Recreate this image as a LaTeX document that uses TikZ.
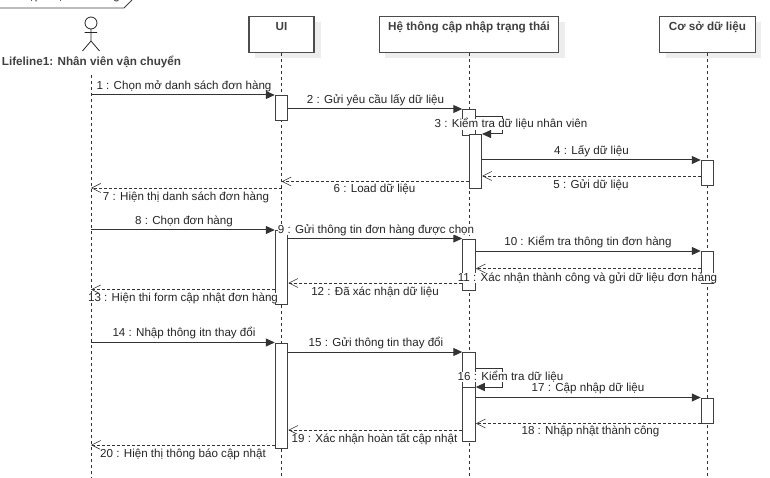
\documentclass[tikz,border=0pt]{standalone}
\usepackage{fontspec}
\setmainfont{Liberation Sans}
\usetikzlibrary{arrows.meta}
\tikzset{
  lifeline/.style={dash pattern=on 3pt off 3pt,line width=.8pt,black!80},
  header/.style={draw=black!70,line width=1.2pt,fill=white,minimum height=36pt,anchor=north,inner sep=0pt},
  headname/.style={font=\fontsize{11.7}{13}\selectfont\bfseries,text=black!75,inner sep=0pt},
  shadowbox/.style={fill=black!7,draw=none},
  activation/.style={draw=black!75,line width=1pt,fill=white,minimum width=12.5pt,inner sep=0pt,anchor=north},
  msg/.style={draw=black!80,line width=1pt,-{Triangle[length=9pt,width=8pt]}},
  reply/.style={draw=black!80,line width=.8pt,dash pattern=on 3pt off 2pt,-{Straight Barb[length=9pt,width=9pt,line width=.6pt]}},
  msglabel/.style={fill=white,inner sep=0pt,text=black!85,font=\fontsize{11.6}{12}\selectfont,text height=8.5pt,text depth=2pt},
}
\begin{document}
\begin{tikzpicture}[x=1pt,y=-1pt]
  \useasboundingbox (0,0) rectangle (770,478);

  % frame tab
  \node[msglabel,fill=none] (frametab) at (60,-3.5) {sd: Cập nhật đơn hàng};
  \coordinate (tabA) at (0,8);
  \coordinate (tabB) at (124,8);
  \coordinate (tabC) at (132,0);
  \draw[draw=black!75,line width=.8pt] (tabA) -- (tabB) -- (tabC);

  % actor
  \draw[line width=.8pt,black!85] (91,23) circle (6pt);
  \draw[line width=.8pt,black!85] (91,29) -- (91,41) -- (82.5,51) (91,41) -- (99.5,51) (84.5,32.5) -- (97,32.5);
  \node[headname] (actorname) at (91.5,62) {Lifeline1: Nhân viên vận chuyển};

  % shadows
  \fill[shadowbox] (255,22) rectangle (321,58);
  \fill[shadowbox] (385,22) rectangle (565,58);
  \fill[shadowbox] (666,22) rectangle (761,58);

  % lifelines
  \coordinate (nvTop) at (91,75);
  \coordinate (nvEnd) at (91,478);
  \coordinate (uiEnd) at (281.5,478);
  \coordinate (htEnd) at (469,478);
  \coordinate (dbEnd) at (707.5,478);
  \draw[lifeline] (nvTop) -- (nvEnd);

  \node[header,minimum width=65pt] (ui) at (281.5,16) {};
  \node[header,minimum width=179pt] (ht) at (469,16) {};
  \node[header,minimum width=95.5pt] (db) at (707.5,16) {};
  \node[headname] (uiname) at (281.5,27) {UI};
  \node[headname] (htname) at (469,27) {Hệ thông cập nhập trạng thái};
  \node[headname] (dbname) at (707.5,27) {Cơ sở dữ liệu};
  \draw[lifeline] (ui) -- (uiEnd);
  \draw[lifeline] (ht) -- (htEnd);
  \draw[lifeline] (db) -- (dbEnd);

  % activations
  \node[activation,minimum height=25pt] (uiA) at (281.5,95) {};
  \node[activation,minimum height=74pt] (uiB) at (281.5,230) {};
  \node[activation,minimum height=105.5pt] (uiC) at (281.5,342.5) {};
  \node[activation,minimum height=26pt] (htA) at (469,109) {};
  \node[activation,minimum height=54pt] (htB) at (475.25,134) {};
  \node[activation,minimum height=51pt] (htC) at (469,238.5) {};
  \node[activation,minimum height=35pt] (htD) at (469,352) {};
  \node[activation,minimum height=53.5pt] (htE) at (469,387) {};
  \node[activation,minimum height=25pt] (dbA) at (707.5,160) {};
  \node[activation,minimum height=32pt] (dbB) at (707.5,251) {};
  \node[activation,minimum height=25pt] (dbC) at (707.5,397.5) {};

  % messages
  \draw[msg] (nvTop |- 0,95) -- (uiA.north west);
  \draw[msg] (uiA.east |- 0,109) -- (htA.north west);
  \draw[msg] (htA.east |- 0,117) -| (502,134) -- (htB.north east);
  \draw[msg] (htB.east |- dbA.north) -- (dbA.north west);
  \draw[reply] (dbA.west |- 0,176) -- (htB.east |- 0,176);
  \draw[reply] (htB.west |- 0,181.5) -- (ui |- 0,181.5);
  \draw[reply] (ui |- 0,188) -- (nvTop |- 0,188);
  \draw[msg] (nvTop |- 0,230) -- (uiB.north west);
  \draw[msg] (uiB.east |- 0,238.5) -- (htC.north west);
  \draw[msg] (htC.east |- dbB.north) -- (dbB.north west);
  \draw[reply] (dbB.west |- 0,268.5) -- (htC.east |- 0,268.5);
  \draw[reply] (htC.west |- 0,283) -- (uiB.east |- 0,283);
  \draw[reply] (uiB.west |- 0,289.5) -- (nvTop |- 0,289.5);
  \draw[msg] (nvTop |- 0,342.5) -- (uiC.north west);
  \draw[msg] (uiC.east |- 0,352) -- (htD.north west);
  \draw[msg] (htD.east |- 0,368) -| (502,387) -- (htE.north east);
  \draw[msg] (htE.east |- dbC.north) -- (dbC.north west);
  \draw[reply] (dbC.south west) -- (htE.east |- dbC.south);
  \draw[reply] (htE.west |- 0,430) -- (uiC.east |- 0,430);
  \draw[reply] (uiC.west |- 0,445) -- (nvTop |- 0,445);

  % message labels
  \node[msglabel] (l1) at (184,86) {1 : Chọn mở danh sách đơn hàng};
  \node[msglabel] (l2) at (375.5,100) {2 : Gửi yêu cầu lấy dữ liệu};
  \node[msglabel] (l3) at (511,124.5) {3 : Kiểm tra dữ liệu nhân viên};
  \node[msglabel] (l4) at (591.5,151) {4 : Lấy dữ liệu};
  \node[msglabel] (l5) at (591,185) {5 : Gửi dữ liệu};
  \node[msglabel] (l6) at (374.5,189) {6 : Load dữ liệu};
  \node[msglabel] (l7) at (186,197) {7 : Hiện thị danh sách đơn hàng};
  \node[msglabel] (l8) at (184,221) {8 : Chọn đơn hàng};
  \node[msglabel] (l9) at (376,230) {9 : Gửi thông tin đơn hàng được chọn};
  \node[msglabel] (l10) at (588,242) {10 : Kiểm tra thông tin đơn hàng};
  \node[msglabel] (l11) at (587.5,278) {11 : Xác nhận thành công và gửi dữ liệu đơn hàng};
  \node[msglabel] (l12) at (375,292) {12 : Đã xác nhận dữ liệu};
  \node[msglabel] (l13) at (183,298) {13 : Hiện thi form cập nhật đơn hàng};
  \node[msglabel] (l14) at (184,333) {14 : Nhập thông itn thay đổi};
  \node[msglabel] (l15) at (376,343) {15 : Gửi thông tin thay đổi};
  \node[msglabel] (l16) at (510.5,377) {16 : Kiểm tra dữ liệu};
  \node[msglabel] (l17) at (588,388) {17 : Cập nhập dữ liệu};
  \node[msglabel] (l18) at (590.5,431) {18 : Nhập nhật thành công};
  \node[msglabel] (l19) at (374.5,439) {19 : Xác nhận hoàn tất cập nhật};
  \node[msglabel] (l20) at (183,454) {20 : Hiện thị thông báo cập nhật};
\end{tikzpicture}
\end{document}
